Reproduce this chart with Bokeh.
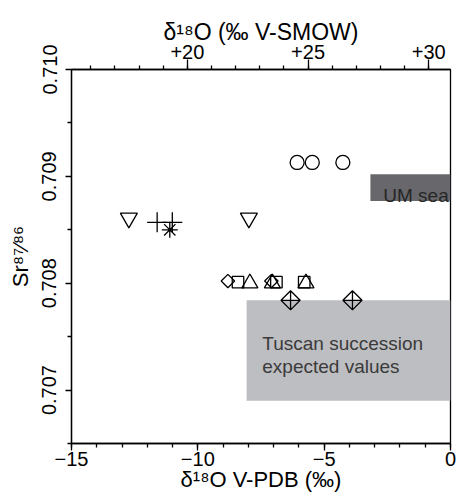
import numpy as np
from bokeh.plotting import figure
from bokeh.models import Range1d, LinearAxis, FixedTicker, NumeralTickFormatter
from bokeh.embed import file_html
from bokeh.resources import INLINE
from bokeh.core.properties import value

# ---------------- data ----------------
circle_x = [-6.07, -5.47, -4.26]
circle_y = [0.70913, 0.70913, 0.70913]
invtri_x = [-12.73, -7.98]
invtri_y = [0.70861, 0.70861]
plus_x = [-11.61, -11.01]
plus_y = [0.70857, 0.70857]
star_x = [-11.11]
star_y = [0.70850]
diamond_x = [-8.81, -7.09]
diamond_y = [0.70802, 0.70802]
square_x = [-8.41, -6.89, -5.79]
square_y = [0.70801, 0.70801, 0.70801]
tri_x = [-7.94, -7.05, -5.72]
tri_y = [0.70800, 0.70800, 0.70800]
dplus_x = [-6.33, -3.88]
dplus_y = [0.70784, 0.70784]

# shaded fields
um_left, um_right, um_bottom, um_top = -3.17, 0.0, 0.70877, 0.70902
tus_left, tus_right, tus_bottom, tus_top = -8.07, 0.0, 0.70690, 0.70784
um_text = "UM sea"
um_text_x, um_text_y = -2.66, 0.70882
tus_text = ["Tuscan succession", "expected values"]
tus_text_x = [-7.45, -7.45]
tus_text_y = [0.70744, 0.70722]

# ticks and titles
bottom_ticks = [-15, -10, -5, 0]
bottom_labels = ["\u221215", "\u221210", "\u22125", "0"]
bottom_minor = list(range(-15, 1))
top_ticks = [20, 25, 30]
top_labels = ["+20", "+25", "+30"]
top_minor = list(range(16, 31))
left_ticks = [0.707, 0.708, 0.709, 0.710]
left_minor = [0.7065, 0.7075, 0.7085, 0.7095]
bottom_title = "\u03b4\u00b9\u2078O V-PDB (\u2030)"
top_title = "\u03b4\u00b9\u2078O (\u2030 V-SMOW)"
left_title = "Sr\u2078\u2077\u2044\u2078\u2076"

FONT = "Liberation Sans"

p = figure(width=459, height=497,
           x_range=Range1d(-15, 0), y_range=Range1d(0.7065, 0.7100),
           output_backend="svg", toolbar_location=None,
           min_border_left=71, min_border_right=9,
           min_border_top=69, min_border_bottom=54)
p.xgrid.visible = False
p.ygrid.visible = False
p.outline_line_color = "black"
p.outline_line_width = 1.3
p.outline_line_alpha = 1.0
p.background_fill_color = "white"
p.border_fill_color = "white"

p.extra_x_ranges = {"smow": Range1d(15.2, 30.9)}
top_axis = LinearAxis(x_range_name="smow")
p.add_layout(top_axis, "above")

bx = p.below[0]
ly = p.left[0]

bx.ticker = FixedTicker(ticks=bottom_ticks, minor_ticks=bottom_minor)
bx.major_label_overrides = dict(zip(bottom_ticks, bottom_labels))
top_axis.ticker = FixedTicker(ticks=top_ticks, minor_ticks=top_minor)
top_axis.major_label_overrides = dict(zip(top_ticks, top_labels))
ly.ticker = FixedTicker(ticks=left_ticks, minor_ticks=left_minor)
ly.formatter = NumeralTickFormatter(format="0.000")
ly.major_label_orientation = "vertical"

bx.axis_label = bottom_title
top_axis.axis_label = top_title
ly.axis_label = left_title

for ax in (bx, top_axis, ly):
    ax.axis_line_color = "black"
    ax.axis_line_width = 1.3
    ax.major_tick_line_color = "black"
    ax.minor_tick_line_color = "black"
    ax.major_tick_line_width = 1.3
    ax.minor_tick_line_width = 1.3
    ax.major_tick_in = 0
    ax.minor_tick_in = 0
    ax.minor_tick_out = 4
    ax.major_label_text_font = FONT
    ax.major_label_text_font_size = "20px"
    ax.major_label_text_color = "black"
    ax.axis_label_text_font = FONT
    ax.axis_label_text_font_style = "normal"
    ax.axis_label_text_color = "black"
    ax.axis_label_text_font_size = "23px"

bx.major_tick_out = 7
bx.major_label_standoff = 1
bx.axis_label_standoff = -2
bx.axis_label_text_font_size = "22px"
top_axis.major_tick_out = 10
top_axis.major_label_standoff = 1
top_axis.axis_label_standoff = -3
ly.major_tick_out = 6
ly.major_label_standoff = 9
ly.axis_label_standoff = 7
ly.axis_label_text_font_size = "22px"

# shaded boxes
p.quad(left=[tus_left], right=[tus_right], bottom=[tus_bottom], top=[tus_top],
       fill_color="#bdbec1", line_color=None)
p.quad(left=[um_left], right=[um_right], bottom=[um_bottom], top=[um_top],
       fill_color="#68686c", line_color=None)
p.text(x=[um_text_x], y=[um_text_y], text=[um_text], text_font=value(FONT),
       text_font_size="19px", text_color="#262626", text_baseline="alphabetic",
       text_align="left")
p.text(x=tus_text_x, y=tus_text_y, text=tus_text, text_font=value(FONT),
       text_font_size="19px", text_color="#3a3a3a", text_baseline="alphabetic",
       text_align="left")

LW = 1.3
common = dict(fill_color=None, line_color="black", line_width=LW)
p.scatter(circle_x, circle_y, marker="circle", size=14, **common)
p.scatter(invtri_x, invtri_y, marker="inverted_triangle", size=17, **common)
p.scatter(plus_x, plus_y, marker="cross", size=20, **common)
p.scatter(star_x, star_y, marker="asterisk", size=16, **common)
p.scatter(diamond_x, diamond_y, marker="square", angle=np.pi / 4, size=9.5, **common)
p.scatter(square_x, square_y, marker="square", size=11.5, **common)
p.scatter(tri_x, tri_y, marker="triangle", size=16, **common)
p.scatter(dplus_x, dplus_y, marker="square_x", angle=np.pi / 4, size=13.5, **common)

open("out.html", "w").write(file_html(p, INLINE))
